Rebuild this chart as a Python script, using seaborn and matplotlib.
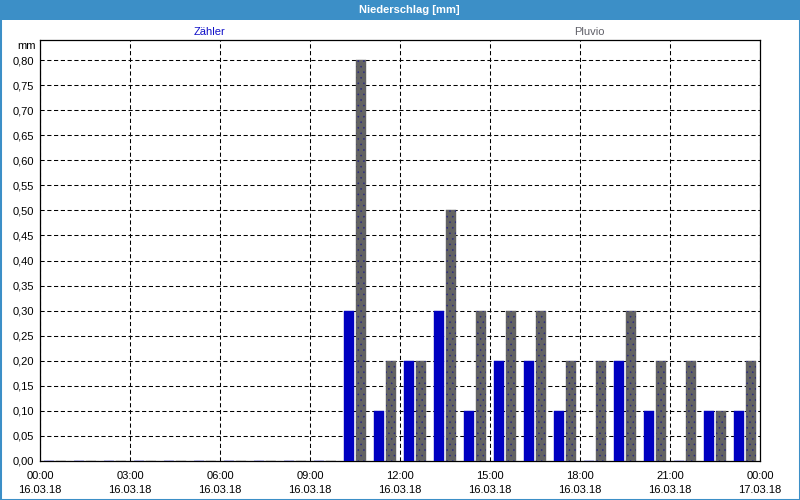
import matplotlib
matplotlib.use("Agg")
import matplotlib.pyplot as plt
import seaborn as sns
import pandas as pd
from matplotlib.patches import Rectangle
from matplotlib.ticker import MultipleLocator

# ---- data -------------------------------------------------------------
slot_mid_hours = [h + 0.5 for h in range(24)]   # middle of each hourly slot
zaehler = [0.00, 0.00, 0.00, 0.00, 0.00, 0.00, 0.00, 0.00, 0.00, 0.00,
           0.30, 0.10, 0.20, 0.30, 0.10, 0.20, 0.20, 0.10, 0.00, 0.20,
           0.10, 0.00, 0.10, 0.10]
pluvio = [0.00, 0.00, 0.00, 0.00, 0.00, 0.00, 0.00, 0.00, 0.00, 0.00,
          0.80, 0.20, 0.20, 0.50, 0.30, 0.30, 0.30, 0.20, 0.20, 0.30,
          0.20, 0.20, 0.10, 0.20]
series_names = ["Zähler", "Pluvio"]
x_tick_hours = [0, 3, 6, 9, 12, 15, 18, 21, 24]
x_tick_labels = ["00:00\n16.03.18", "03:00\n16.03.18", "06:00\n16.03.18",
                 "09:00\n16.03.18", "12:00\n16.03.18", "15:00\n16.03.18",
                 "18:00\n16.03.18", "21:00\n16.03.18", "00:00\n17.03.18"]
y_ticks = [i * 0.05 for i in range(17)]
y_tick_labels = [f"{v:.2f}".replace(".", ",") for v in y_ticks]
title = "Niederschlag [mm]"
unit_label = "mm"

# ---- style ------------------------------------------------------------
sns.set_theme(style="white")
plt.rcParams["font.family"] = ["Liberation Sans", "DejaVu Sans"]
plt.rcParams["hatch.linewidth"] = 0.4

BLUE = "#0000c0"
GRAY = "#636363"
FRAME = "#3c8fc7"

df = pd.DataFrame({
    "hour": slot_mid_hours * 2,
    "value": zaehler + pluvio,
    "series": [series_names[0]] * 24 + [series_names[1]] * 24,
})

fig = plt.figure(figsize=(8, 5), dpi=100)
fig.patch.set_facecolor("white")
ax = fig.add_axes([40 / 800, 39 / 500, 720 / 800, 421 / 500])

sns.barplot(data=df, x="hour", y="value", hue="series", hue_order=series_names,
            palette={series_names[0]: BLUE, series_names[1]: GRAY},
            native_scale=True, width=0.78, gap=0.12, dodge=True,
            saturation=1, errorbar=None, legend=False, ax=ax)

for i, cont in enumerate(ax.containers):
    for p in cont:
        p.set_edgecolor(p.get_facecolor())
        p.set_linewidth(0.3)
        p.set_zorder(3)
        if i == 1:
            ax.add_patch(Rectangle(p.get_xy(), p.get_width(), p.get_height(),
                                   fill=False, hatch="...", edgecolor="#2a2a80",
                                   linewidth=0, zorder=3.1))

ax.set_xlim(0, 24)
ax.set_ylim(0, 0.84)
ax.set_xticks(x_tick_hours)
ax.set_xticklabels(x_tick_labels, fontsize=8, linespacing=1.55)
ax.xaxis.set_minor_locator(MultipleLocator(1))
ax.set_yticks(y_ticks)
ax.set_yticklabels(y_tick_labels, fontsize=8)
ax.set_xlabel("")
ax.set_ylabel("")
ax.tick_params(axis="x", which="both", direction="out", length=3, width=0.8,
               color="black", pad=4, labelcolor="black")
ax.tick_params(axis="y", length=0, pad=4, labelcolor="black")

ax.set_axisbelow(True)
ax.grid(True, which="major", axis="both", color="black",
        linestyle=(0, (4, 2.5)), linewidth=0.75)
for s in ax.spines.values():
    s.set_visible(True)
    s.set_color("black")
    s.set_linewidth(0.9)
    s.set_zorder(2.5)

# ---- window chrome, title, legend texts --------------------------------
fig.patches.append(Rectangle((0, 480 / 500), 1, 20 / 500, transform=fig.transFigure,
                             facecolor=FRAME, edgecolor="none", zorder=0))
fig.patches.append(Rectangle((0, 0), 1, 1, transform=fig.transFigure,
                             fill=False, edgecolor=FRAME, linewidth=2.2, zorder=0))
fig.text(409 / 800, 1 - 10 / 500, title, color="white", fontsize=8,
         fontweight="bold", ha="center", va="center")
fig.text(210 / 800, 1 - 32 / 500, series_names[0], color="#1010c8", fontsize=8,
         ha="center", va="center")
fig.text(589 / 800, 1 - 32 / 500, series_names[1], color="#606068", fontsize=8,
         ha="center", va="center")
fig.text(36 / 800, 1 - 46 / 500, unit_label, color="black", fontsize=8,
         ha="right", va="center")

fig.savefig("out.png", dpi=100)
